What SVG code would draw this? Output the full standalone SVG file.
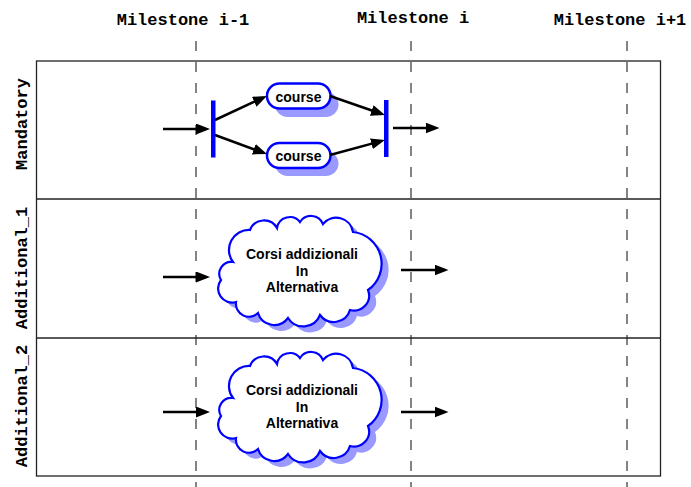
<svg xmlns="http://www.w3.org/2000/svg" xmlns:xlink="http://www.w3.org/1999/xlink" width="691" height="487" viewBox="0 0 691 487">
  <style>
    .mono { font-family: "Liberation Mono", "Courier New", monospace; font-weight: bold; font-size: 17px; fill: #000; }
    .lbl { font-family: "Liberation Sans", Arial, sans-serif; font-weight: bold; font-size: 14px; fill: #000; text-anchor: middle; }
    .dash { stroke: #333; stroke-width: 1.2; stroke-dasharray: 10 11; fill: none; }
    .frame { fill: none; stroke: #222; stroke-width: 1.3; }
    .arrow { stroke: #000; stroke-width: 2.5; fill: none; marker-end: url(#ah); }
    .bar { fill: #0000ff; }
    .course { fill: #fff; stroke: #0000ff; stroke-width: 2.5; }
    .shadow { fill: #9999ff; stroke: none; }
    .cloud { fill: #fff; stroke: #0000ff; stroke-width: 2.2; }
  </style>
  <defs>
    <marker id="ah" viewBox="0 0 14 11" refX="10" refY="5.5" markerWidth="14" markerHeight="11" markerUnits="userSpaceOnUse" orient="auto">
      <path d="M0,0 L14,5.5 L0,11 z" fill="#000"/>
    </marker>
    <path id="cloudShape" d="M221,280 A12,12 0 0 1 233,262 A20,20 0 0 1 250,230 A15,15 0 0 1 277,228 A13,13 0 0 1 300,222 A13,13 0 0 1 323,224 A17,17 0 0 1 353,232 A32,32 0 0 1 368,290 A15,15 0 0 1 350,310 A17,17 0 0 1 320,315 A18,18 0 0 1 288,318 A17,17 0 0 1 258,313 A13,13 0 0 1 236,302 A14,14 0 0 1 221,280 Z"/>
  </defs>

  <rect width="691" height="487" fill="#fff"/>

  <g id="milestones">
    <text class="mono" x="183" y="25" text-anchor="middle">Milestone i-1</text>
    <text class="mono" x="413" y="23" text-anchor="middle">Milestone i</text>
    <text class="mono" x="620" y="25" text-anchor="middle">Milestone i+1</text>
    <line class="dash" x1="196" y1="41" x2="196" y2="487"/>
    <line class="dash" x1="411" y1="41" x2="411" y2="487"/>
    <line class="dash" x1="627" y1="41" x2="627" y2="487"/>
  </g>

  <g id="lanes">
    <rect class="frame" x="36.5" y="61" width="624" height="415"/>
    <line class="frame" x1="36.5" y1="199" x2="660.5" y2="199"/>
    <line class="frame" x1="36.5" y1="338" x2="660.5" y2="338"/>
    <text class="mono" transform="translate(27,124) rotate(-90)" text-anchor="middle">Mandatory</text>
    <text class="mono" transform="translate(27,268) rotate(-90)" text-anchor="middle">Additional_1</text>
    <text class="mono" transform="translate(27,406) rotate(-90)" text-anchor="middle">Additional_2</text>
  </g>

  <g id="bar-left">
    <rect class="bar" x="211" y="100.5" width="4.5" height="57"/>
  </g>
  <g id="bar-right">
    <rect class="bar" x="384" y="100" width="4.5" height="57"/>
  </g>

  <g id="course-top">
    <rect class="shadow" x="275" y="92" width="63.5" height="25" rx="12.5"/>
    <rect class="course" x="267" y="83.5" width="63.5" height="25" rx="12.5"/>
    <text class="lbl" x="298.5" y="101.5">course</text>
  </g>
  <g id="course-bottom">
    <rect class="shadow" x="275" y="151" width="63.5" height="25" rx="12.5"/>
    <rect class="course" x="267" y="143" width="63.5" height="25" rx="12.5"/>
    <text class="lbl" x="298.5" y="160.5">course</text>
  </g>

  <g id="cloud-1">
    <use xlink:href="#cloudShape" href="#cloudShape" class="shadow" transform="translate(7,6)"/>
    <use xlink:href="#cloudShape" href="#cloudShape" class="cloud"/>
    <text class="lbl" x="302" y="259">Corsi addizionali</text>
    <text class="lbl" x="302" y="275.5">In</text>
    <text class="lbl" x="302" y="292">Alternativa</text>
  </g>
  <g id="cloud-2">
    <use xlink:href="#cloudShape" href="#cloudShape" class="shadow" transform="translate(7,142)"/>
    <use xlink:href="#cloudShape" href="#cloudShape" class="cloud" transform="translate(0,136)"/>
    <text class="lbl" x="302" y="395">Corsi addizionali</text>
    <text class="lbl" x="302" y="411.5">In</text>
    <text class="lbl" x="302" y="428">Alternativa</text>
  </g>

  <g id="connectors">
    <line class="arrow" x1="163" y1="129" x2="206" y2="129"/>
    <line class="arrow" x1="215" y1="120" x2="263.3" y2="97.6"/>
    <line class="arrow" x1="215" y1="135" x2="263.2" y2="152.7"/>
    <line class="arrow" x1="330" y1="96" x2="381.2" y2="113.7"/>
    <line class="arrow" x1="330" y1="155" x2="381.1" y2="141.1"/>
    <line class="arrow" x1="393" y1="128" x2="435.5" y2="128"/>
    <line class="arrow" x1="163" y1="277" x2="206" y2="277"/>
    <line class="arrow" x1="401" y1="270" x2="444.5" y2="270"/>
    <line class="arrow" x1="163" y1="412" x2="206" y2="412"/>
    <line class="arrow" x1="401" y1="412" x2="444.5" y2="412"/>
  </g>
</svg>
